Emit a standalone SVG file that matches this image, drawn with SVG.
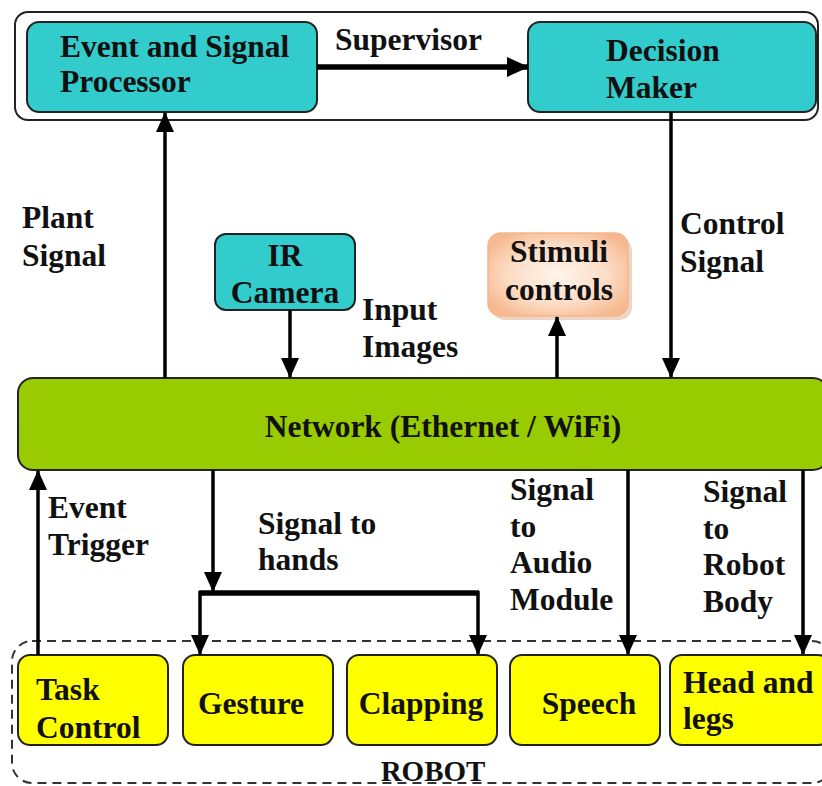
<svg xmlns="http://www.w3.org/2000/svg" width="822" height="786" viewBox="0 0 822 786">
<style>
  text { font-family: "Liberation Serif", "Times New Roman", serif; font-weight: bold; font-size: 31.5px; fill: #111; }
  .c { text-anchor: middle; }
  .teal { fill: #33CCCC; stroke: #222; stroke-width: 2; }
  .yel { fill: #FFFF00; stroke: #222; stroke-width: 2; }
  .line { stroke: #000; stroke-width: 3.5; fill: none; }
  .thick { stroke: #000; stroke-width: 5.5; fill: none; }
</style>
<defs>
  <marker id="ah" viewBox="0 0 20 18" refX="19" refY="9" markerWidth="20" markerHeight="18" orient="auto" markerUnits="userSpaceOnUse">
    <path d="M0,0 L20,9 L0,18 Z" fill="#000"/>
  </marker>
  <marker id="ahs" viewBox="0 0 22 20" refX="21" refY="10" markerWidth="22" markerHeight="20" orient="auto" markerUnits="userSpaceOnUse">
    <path d="M0,0 L22,10 L0,20 Z" fill="#000"/>
  </marker>
  <radialGradient id="peach" cx="0.5" cy="0.5" r="0.6">
    <stop offset="0" stop-color="#FFF4EC"/>
    <stop offset="0.6" stop-color="#FCDCC4"/>
    <stop offset="1" stop-color="#F6B88E"/>
  </radialGradient>
</defs>

<g id="supervisor">
  <rect x="15" y="12" width="803" height="108" rx="13" fill="#fff" stroke="#222" stroke-width="2"/>
  <text x="335" y="50">Supervisor</text>
</g>
<g id="event-signal-processor">
  <rect class="teal" x="27" y="22" width="290" height="90" rx="12"/>
  <text x="60" y="57">Event and Signal</text>
  <text x="60" y="92">Processor</text>
</g>
<g id="decision-maker">
  <rect class="teal" x="528" y="22" width="288" height="90" rx="12"/>
  <text x="606" y="61">Decision</text>
  <text x="606" y="98">Maker</text>
</g>
<g id="ir-camera">
  <rect class="teal" x="215" y="234" width="140" height="76" rx="11"/>
  <text class="c" x="285" y="266">IR</text>
  <text class="c" x="285" y="303">Camera</text>
</g>
<g id="stimuli-controls">
  <rect x="492" y="238" width="140" height="82" rx="13" fill="#E0A98A" opacity="0.5"/>
  <rect x="488" y="233" width="140" height="83" rx="13" fill="url(#peach)" stroke="#F3B68E" stroke-width="1.5"/>
  <text class="c" x="559" y="262">Stimuli</text>
  <text class="c" x="559" y="300">controls</text>
</g>
<g id="network">
  <rect x="18" y="378" width="810" height="92" rx="15" fill="#99CC00" stroke="#222" stroke-width="2"/>
  <text class="c" x="443" y="437">Network (Ethernet / WiFi)</text>
</g>
<g id="robot">
  <rect x="12" y="641" width="820" height="142" rx="20" fill="none" stroke="#333" stroke-width="2" stroke-dasharray="9,6"/>
  <text class="c" x="433" y="781" style="font-size:29px">ROBOT</text>
</g>
<g id="task-control">
  <rect class="yel" x="18" y="655" width="150" height="90" rx="12"/>
  <text x="36" y="700">Task</text>
  <text x="36" y="738">Control</text>
</g>
<g id="gesture">
  <rect class="yel" x="183" y="655" width="150" height="90" rx="12"/>
  <text class="c" x="251" y="714">Gesture</text>
</g>
<g id="clapping">
  <rect class="yel" x="347" y="655" width="150" height="90" rx="12"/>
  <text class="c" x="421" y="714">Clapping</text>
</g>
<g id="speech">
  <rect class="yel" x="510" y="655" width="150" height="90" rx="12"/>
  <text class="c" x="589" y="714">Speech</text>
</g>
<g id="head-legs">
  <rect class="yel" x="670" y="655" width="160" height="90" rx="12"/>
  <text x="683" y="693">Head and</text>
  <text x="683" y="729">legs</text>
</g>

<g id="connectors">
  <line class="thick" x1="317" y1="67" x2="528" y2="67" marker-end="url(#ahs)"/>
  <line class="line" x1="165" y1="378" x2="165" y2="113" marker-end="url(#ah)"/>
  <line class="line" x1="671" y1="112" x2="671" y2="377" marker-end="url(#ah)"/>
  <line class="line" x1="290" y1="310" x2="290" y2="377" marker-end="url(#ah)"/>
  <line class="line" x1="557" y1="378" x2="557" y2="317" marker-end="url(#ah)"/>
  <line class="line" x1="38" y1="655" x2="38" y2="471" marker-end="url(#ah)"/>
  <line class="line" x1="213" y1="470" x2="213" y2="591" marker-end="url(#ah)"/>
  <line class="thick" x1="199" y1="593" x2="479" y2="593"/>
  <line class="line" x1="200" y1="591" x2="200" y2="654" marker-end="url(#ah)"/>
  <line class="line" x1="478" y1="591" x2="478" y2="654" marker-end="url(#ah)"/>
  <line class="line" x1="628" y1="470" x2="628" y2="654" marker-end="url(#ah)"/>
  <line class="line" x1="803" y1="470" x2="803" y2="654" marker-end="url(#ah)"/>
</g>

<g id="labels">
  <text x="22" y="228">Plant</text>
  <text x="22" y="266">Signal</text>
  <text x="680" y="234">Control</text>
  <text x="680" y="272">Signal</text>
  <text x="362" y="320">Input</text>
  <text x="362" y="357">Images</text>
  <text x="48" y="518">Event</text>
  <text x="48" y="555">Trigger</text>
  <text x="258" y="534">Signal to</text>
  <text x="258" y="570">hands</text>
  <text x="510" y="500">Signal</text>
  <text x="510" y="537">to</text>
  <text x="510" y="573">Audio</text>
  <text x="510" y="610">Module</text>
  <text x="703" y="502">Signal</text>
  <text x="703" y="539">to</text>
  <text x="703" y="575">Robot</text>
  <text x="703" y="612">Body</text>
</g>
</svg>
